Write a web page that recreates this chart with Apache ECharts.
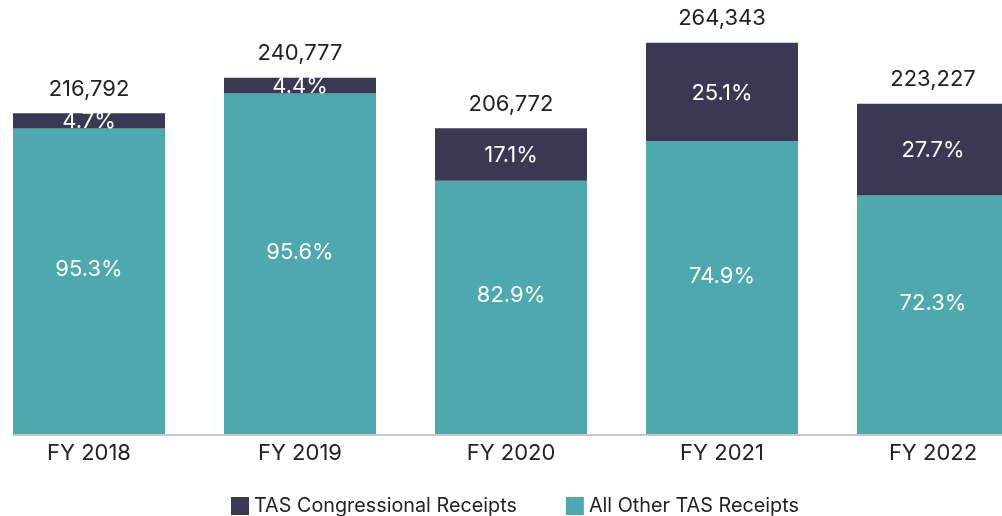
<!DOCTYPE html>
<html>
<head>
<meta charset="utf-8">
<script src="https://cdn.jsdelivr.net/npm/echarts@6/dist/echarts.min.js"></script>
<style>
html,body{margin:0;padding:0;background:#fff;}
#chart{width:1002px;height:516px;}
</style>
</head>
<body>
<div id="chart"></div>
<script>
const categories = ['FY 2018', 'FY 2019', 'FY 2020', 'FY 2021', 'FY 2022'];
const totals = [216792, 240777, 206772, 264343, 223227];
const congressional = [10189, 10594, 35358, 66350, 61834];
const allOther = [206603, 230183, 171414, 197993, 161393];
const congressionalPct = ['4.7%', '4.4%', '17.1%', '25.1%', '27.7%'];
const allOtherPct = ['95.3%', '95.6%', '82.9%', '74.9%', '72.3%'];
const totalZero = [0, 0, 0, 0, 0];

const FONT = 'Inter';
const DARK = '#3a3953';
const TEAL = '#4ea9ae';

const chart = echarts.init(document.getElementById('chart'), null, {renderer: 'canvas'});
chart.setOption({
  animation: false,
  backgroundColor: '#fff',
  textStyle: {fontFamily: FONT},
  legend: {
    left: 231,
    top: 496,
    padding: 0,
    itemWidth: 18,
    itemHeight: 18,
    itemGap: 49,
    icon: 'rect',
    data: ['TAS Congressional Receipts', 'All Other TAS Receipts'],
    textStyle: {fontFamily: FONT, fontSize: 19.8, color: '#222'}
  },
  grid: [
    {left: -16.5, width: 1055, top: 19.5, height: 415.5, containLabel: false, outerBoundsMode: 'none'}
  ],
  xAxis: [
    {
      type: 'category',
      data: categories,
      gridIndex: 0,
      axisLine: {show: false},
      axisTick: {show: false},
      splitLine: {show: false},
      axisLabel: {fontFamily: FONT, fontSize: 22, color: '#222', margin: 7}
    }
  ],
  yAxis: [
    {type: 'value', gridIndex: 0, min: 0, max: 280000, show: false}
  ],
  series: [
    {
      name: 'All Other TAS Receipts',
      type: 'bar',
      stack: 'total',
      data: allOther,
      barWidth: 152,
      itemStyle: {color: TEAL},
      label: {
        show: true,
        position: 'inside',
        offset: [0, -12],
        fontFamily: FONT,
        fontSize: 22,
        color: '#fff',
        formatter: p => allOtherPct[p.dataIndex]
      },
      markLine: {
        silent: true,
        symbol: 'none',
        label: {show: false},
        lineStyle: {color: '#c8c8c8', width: 2, type: 'solid'},
        data: [[
          {coord: [0, 0], x: 13},
          {coord: [4, 0], x: 1002}
        ]]
      }
    },
    {
      name: 'TAS Congressional Receipts',
      type: 'bar',
      stack: 'total',
      data: congressional,
      barWidth: 152,
      itemStyle: {color: DARK},
      label: {
        show: true,
        position: 'inside',
        offset: [0, 1],
        fontFamily: FONT,
        fontSize: 22,
        color: '#fff',
        formatter: p => congressionalPct[p.dataIndex]
      }
    },
    {
      name: 'Total',
      type: 'bar',
      stack: 'total',
      data: totalZero,
      barWidth: 152,
      itemStyle: {color: 'transparent'},
      label: {
        show: true,
        position: 'top',
        distance: 13,
        fontFamily: FONT,
        fontSize: 22,
        color: '#222',
        formatter: p => totals[p.dataIndex].toLocaleString('en-US')
      }
    }
  ]
});
</script>
</body>
</html>
